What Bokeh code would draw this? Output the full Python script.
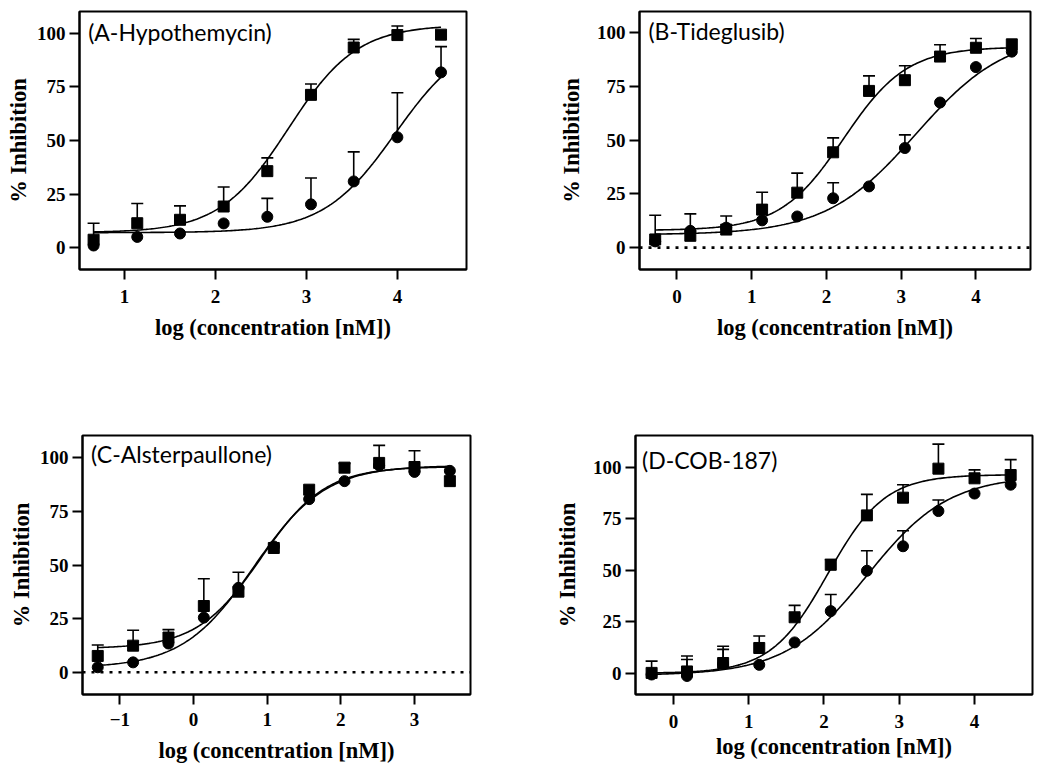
import numpy as np
from bokeh.plotting import figure
from bokeh.models import Range1d, FixedTicker, Span, Label, Title
from bokeh.layouts import row, column
from bokeh.embed import file_html
from bokeh.resources import INLINE

# ---------------- data ----------------
A_title = "(A-Hypothemycin)"
A_x = [0.66, 1.14, 1.61, 2.09, 2.57, 3.05, 3.52, 4.00, 4.48]
A_sq = [3.7, 11.4, 13.0, 19.2, 35.7, 71.3, 93.4, 99.2, 99.4]
A_sq_err = [7.7, 9.2, 6.5, 9.1, 6.2, 5.1, 3.8, 4.2, 0.0]
A_ci = [1.0, 5.0, 6.6, 11.3, 14.4, 20.2, 30.9, 51.5, 81.8]
A_ci_err = [0.0, 0.0, 0.0, 0.0, 8.6, 12.3, 13.8, 20.8, 12.0]
A_fit_sq = [7.0, 104.0, 2.80, 1.15]   # bottom, top, logIC50, hill
A_fit_ci = [7.0, 100.0, 3.98, 1.10]
A_xticks = [1, 2, 3, 4]

B_title = "(B-Tideglusib)"
B_x = [-0.29, 0.18, 0.66, 1.14, 1.61, 2.09, 2.57, 3.05, 3.52, 4.00, 4.48]
B_sq = [3.8, 5.5, 8.4, 17.7, 25.6, 44.4, 73.0, 78.0, 89.0, 93.1, 94.7]
B_sq_err = [11.3, 10.2, 6.3, 8.1, 9.1, 6.7, 7.0, 6.7, 5.5, 4.3, 0.0]
B_ci = [2.9, 7.8, 9.3, 12.7, 14.5, 23.0, 28.5, 46.4, 67.6, 84.1, 91.3]
B_ci_err = [0.0, 0.0, 0.0, 0.0, 0.0, 7.2, 0.0, 6.1, 0.0, 0.0, 0.0]
B_fit_sq = [8.0, 93.5, 2.23, 1.03]
B_fit_ci = [6.0, 100.0, 3.20, 0.72]
B_xticks = [0, 1, 2, 3, 4]

C_title = "(C-Alsterpaullone)"
C_x = [-1.30, -0.82, -0.34, 0.14, 0.61, 1.09, 1.57, 2.05, 2.52, 3.00, 3.48]
C_sq = [7.6, 12.4, 16.2, 30.9, 37.6, 58.0, 85.2, 95.5, 97.7, 95.8, 89.2]
C_sq_err = [5.1, 7.2, 3.7, 12.7, 9.1, 0.0, 0.0, 2.0, 8.2, 7.6, 0.0]
C_ci = [2.3, 4.6, 13.4, 25.5, 39.4, 58.7, 80.8, 89.2, 96.6, 93.5, 94.0]
C_ci_err = [0.0] * 11
C_fit_sq = [11.0, 96.0, 0.92, 1.00]
C_fit_ci = [2.0, 96.5, 0.82, 0.90]
C_xticks = [-1, 0, 1, 2, 3]

D_title = "(D-COB-187)"
D_x = [-0.29, 0.18, 0.66, 1.14, 1.61, 2.09, 2.57, 3.05, 3.52, 4.00, 4.48]
D_sq = [0.2, 0.9, 5.0, 12.3, 27.2, 52.7, 76.7, 85.3, 99.4, 94.7, 96.3]
D_sq_err = [5.7, 7.5, 8.1, 5.8, 5.8, 2.6, 10.2, 6.3, 11.9, 4.1, 7.5]
D_ci = [-0.6, -1.3, 4.5, 4.1, 15.0, 30.2, 49.8, 61.7, 78.8, 87.3, 91.6]
D_ci_err = [0.0, 8.0, 7.1, 0.0, 0.0, 8.1, 9.7, 7.5, 5.4, 0.0, 0.0]
D_fit_sq = [0.0, 96.5, 2.05, 1.15]
D_fit_ci = [-1.0, 96.0, 2.57, 0.80]
D_xticks = [0, 1, 2, 3, 4]

y_ticks = [0, 25, 50, 75, 100]
x_label = "log (concentration [nM])"
y_label = "% Inhibition"

SERIF = "Liberation Serif"
SANS = "Lato"


def four_pl(xs, params):
    bottom, top, logic50, hill = params
    xs = np.asarray(xs)
    return bottom + (top - bottom) / (1.0 + 10 ** ((logic50 - xs) * hill))


def panel(width, height, borders, xr, yr, xticks, title, title_xy,
          xs, sq, sq_err, ci, ci_err, fit_sq, fit_ci, zero_line, standoffs,
          ylab_standoff, xlabel_as_title=False):
    bl, br, bt, bb = borders
    p = figure(width=width, height=height, x_range=Range1d(*xr),
               y_range=Range1d(*yr), output_backend="svg",
               toolbar_location=None, min_border=0,
               min_border_left=bl, min_border_right=br,
               min_border_top=bt, min_border_bottom=bb)
    p.xgrid.visible = False
    p.ygrid.visible = False
    p.outline_line_color = "black"
    p.outline_line_width = 2
    p.outline_line_alpha = 1.0
    p.background_fill_color = "white"
    p.border_fill_color = "white"

    for ax, ticks in ((p.xaxis[0], xticks), (p.yaxis[0], y_ticks)):
        ax.ticker = FixedTicker(ticks=ticks)
        ax.axis_line_width = 2
        ax.axis_line_color = "black"
        ax.major_tick_line_width = 2
        ax.major_tick_line_color = "black"
        ax.major_tick_out = 10
        ax.major_tick_in = 0
        ax.minor_tick_out = 0
        ax.minor_tick_in = 0
        ax.major_label_text_font = SERIF
        ax.major_label_text_font_style = "bold"
        ax.major_label_text_font_size = "19px"
        ax.major_label_text_color = "black"
        ax.axis_label_text_font = SERIF
        ax.axis_label_text_font_style = "bold"
        ax.axis_label_text_font_size = "22.5px"
        ax.axis_label_text_color = "black"
    p.yaxis[0].axis_label = y_label
    p.xaxis[0].major_label_standoff = standoffs[0]
    p.xaxis[0].axis_label_standoff = standoffs[1]
    p.yaxis[0].major_label_standoff = 4
    p.yaxis[0].axis_label_standoff = ylab_standoff

    if xlabel_as_title:
        # x-axis title as a panel below the axis (needs less reserved space)
        p.add_layout(Title(text=x_label, align="center", text_font=SERIF,
                           text_font_style="bold", text_font_size="22.5px",
                           text_color="black", standoff=2), "below")
    else:
        p.xaxis[0].axis_label = x_label

    if zero_line:
        p.add_layout(Span(location=0, dimension="width", line_color="black",
                          line_width=2.6, line_dash="3 6"))

    # fitted curves
    for params in (fit_sq, fit_ci):
        gx = np.linspace(xs[0], xs[-1], 200)
        p.line(gx, four_pl(gx, params), line_color="black", line_width=1.6)

    # error bars (upper only)
    for ys, es in ((sq, sq_err), (ci, ci_err)):
        bx = [x for x, e in zip(xs, es) if e > 0]
        by0 = [y for y, e in zip(ys, es) if e > 0]
        by1 = [y + e for y, e in zip(ys, es) if e > 0]
        p.segment(bx, by0, bx, by1, line_color="black", line_width=1.6)
        p.scatter(bx, by1, marker="dash", size=12, line_color="black",
                  line_width=1.6)

    p.scatter(xs, sq, marker="square", size=11, fill_color="black",
              line_color="black")
    p.scatter(xs, ci, marker="circle", size=11, fill_color="black",
              line_color="black")

    p.add_layout(Label(x=title_xy[0], y=title_xy[1], text=title,
                       text_font=SANS, text_font_size="23px",
                       text_color="black", text_baseline="middle",
                       text_align="left"))
    return p


pA = panel(525, 400, (79, 59, 11, 129), (0.505, 4.76), (-10.2, 110.2),
           A_xticks, A_title, (0.60, 100.5),
           A_x, A_sq, A_sq_err, A_ci, A_ci_err, A_fit_sq, A_fit_ci, False,
           (10, 9), 3)
pB = panel(524, 400, (114, 19, 7, 131), (-0.5, 4.73), (-10.2, 110.0),
           B_xticks, B_title, (-0.38, 100.9),
           B_x, B_sq, B_sq_err, B_ci, B_ci_err, B_fit_sq, B_fit_ci, True,
           (10, 9), 10)
pC = panel(525, 379, (82, 55, 33, 85), (-1.507, 3.76), (-10.4, 110.5),
           C_xticks, C_title, (-1.39, 102.0),
           C_x, C_sq, C_sq_err, C_ci, C_ci_err, C_fit_sq, C_fit_ci, True,
           (8, 9), 3)
pD = panel(524, 379, (110, 17, 35, 76), (-0.504, 4.77), (-10.3, 115.5),
           D_xticks, D_title, (-0.416, 103.7),
           D_x, D_sq, D_sq_err, D_ci, D_ci_err, D_fit_sq, D_fit_ci, False,
           (10, 7), 10, xlabel_as_title=True)

layout = column(row(pA, pB), row(pC, pD))

with open("out.html", "w") as f:
    f.write(file_html(layout, INLINE))
